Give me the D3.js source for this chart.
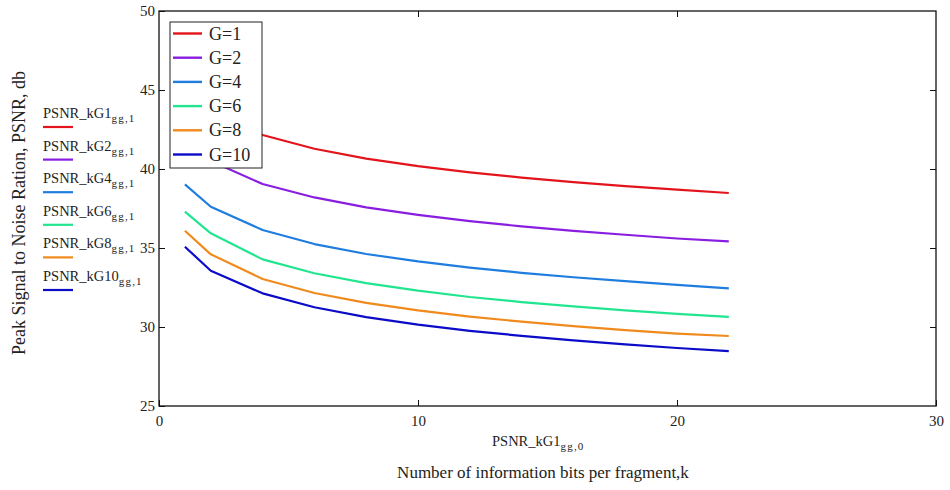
<!DOCTYPE html>
<html>
<head>
<meta charset="utf-8">
<script src="https://cdn.jsdelivr.net/npm/d3@7"></script>
<style>
  html, body { margin: 0; padding: 0; background: #fff; }
  svg { display: block; }
  text { font-family: "Liberation Serif", "Times New Roman", serif; fill: #222; }
</style>
</head>
<body>
<svg id="chart" width="950" height="490"></svg>
<script>
// Number of information bits per fragment
const bits = [1, 2, 4, 6, 8, 10, 12, 14, 16, 18, 20, 22];

// PSNR (dB) per group size G
const psnrG1  = [45.0, 43.6, 42.15, 41.28, 40.66, 40.18, 39.79, 39.46, 39.17, 38.92, 38.69, 38.48];
const psnrG2  = [41.9, 40.5, 39.05, 38.2, 37.57, 37.1, 36.7, 36.37, 36.08, 35.84, 35.6, 35.42];
const psnrG4  = [39.03, 37.61, 36.14, 35.25, 34.62, 34.15, 33.76, 33.43, 33.15, 32.9, 32.66, 32.44];
const psnrG6  = [37.3, 35.93, 34.28, 33.4, 32.78, 32.3, 31.9, 31.58, 31.3, 31.05, 30.83, 30.64];
const psnrG8  = [36.09, 34.6, 33.04, 32.15, 31.53, 31.05, 30.66, 30.34, 30.05, 29.8, 29.58, 29.43];
const psnrG10 = [35.08, 33.56, 32.13, 31.25, 30.63, 30.15, 29.76, 29.44, 29.15, 28.9, 28.67, 28.47];

const seriesNames = ["G=1", "G=2", "G=4", "G=6", "G=8", "G=10"];
const seriesIds = ["1", "2", "4", "6", "8", "10"];
const seriesColors = ["#e3141b", "#8a1ee0", "#1f7ddf", "#21e58f", "#f18a1c", "#0b0bc8"];
const seriesValues = [psnrG1, psnrG2, psnrG4, psnrG6, psnrG8, psnrG10];

const xTicks = [0, 10, 20, 30];
const yTicks = [25, 30, 35, 40, 45, 50];

const svg = d3.select("#chart");
const x = d3.scaleLinear().domain([0, 30]).range([159, 936]);
const y = d3.scaleLinear().domain([25, 50]).range([406, 11]);

const tick = 6;
const serif = "Liberation Serif";

// inner tick marks on all four sides
svg.append("g").attr("transform", `translate(${x(0)},0)`)
  .call(d3.axisLeft(y).tickValues(yTicks).tickSize(-tick).tickSizeOuter(0).tickPadding(4))
  .call(g => g.select(".domain").remove())
  .call(g => g.selectAll("line").attr("stroke", "#111"))
  .call(g => g.selectAll("text").attr("font-size", 15).attr("font-family", serif).attr("fill", "#333"));

svg.append("g").attr("transform", `translate(0,${y(25)})`)
  .call(d3.axisBottom(x).tickValues(xTicks).tickSize(-tick).tickSizeOuter(0).tickPadding(9))
  .call(g => g.select(".domain").remove())
  .call(g => g.selectAll("line").attr("stroke", "#111"))
  .call(g => g.selectAll("text").attr("font-size", 15).attr("font-family", serif).attr("fill", "#333"));

svg.append("g").attr("transform", `translate(0,${y(50)})`)
  .call(d3.axisTop(x).tickValues([10, 20]).tickSize(-tick).tickSizeOuter(0).tickFormat(""))
  .call(g => g.select(".domain").remove())
  .call(g => g.selectAll("line").attr("stroke", "#111"));

svg.append("g").attr("transform", `translate(${x(30)},0)`)
  .call(d3.axisRight(y).tickValues([30, 35, 40, 45]).tickSize(-tick).tickSizeOuter(0).tickFormat(""))
  .call(g => g.select(".domain").remove())
  .call(g => g.selectAll("line").attr("stroke", "#111"));

// plot frame
svg.append("rect")
  .attr("x", x(0)).attr("y", y(50))
  .attr("width", x(30) - x(0)).attr("height", y(25) - y(50))
  .attr("fill", "none").attr("stroke", "#111").attr("stroke-width", 1.3);

// curves
const line = d3.line().x((d, i) => x(bits[i])).y(d => y(d));
seriesValues.forEach((vals, k) => {
  svg.append("path")
    .datum(vals)
    .attr("d", line)
    .attr("fill", "none")
    .attr("stroke", seriesColors[k])
    .attr("stroke-width", 2.2)
    .attr("stroke-linejoin", "round");
});

// inner legend box
const lg = svg.append("g").attr("transform", "translate(170,22)");
lg.append("rect").attr("width", 92).attr("height", 146)
  .attr("fill", "#fff").attr("stroke", "#222").attr("stroke-width", 1);
seriesNames.forEach((name, k) => {
  const cy = 11.5 + k * 24.2;
  lg.append("line").attr("x1", 3).attr("x2", 32).attr("y1", cy).attr("y2", cy)
    .attr("stroke", seriesColors[k]).attr("stroke-width", 2.4);
  lg.append("text").attr("x", 39).attr("y", cy + 6)
    .attr("font-family", serif).attr("font-size", 18).text(name);
});

// left-hand trace legend
seriesIds.forEach((id, k) => {
  const ly = 127 + k * 32.6;
  const t = svg.append("text").attr("x", 43).attr("y", ly - 9)
    .attr("font-family", serif).attr("font-size", 14.5);
  t.append("tspan").text("PSNR_kG" + id);
  t.append("tspan").attr("font-size", 11).attr("dy", 4).attr("letter-spacing", 1.2).text("gg,1");
  svg.append("line").attr("x1", 43).attr("x2", 73).attr("y1", ly).attr("y2", ly)
    .attr("stroke", seriesColors[k]).attr("stroke-width", 2.2);
});

// axis titles
const xt = svg.append("text").attr("x", 492).attr("y", 446)
  .attr("font-family", serif).attr("font-size", 14.5);
xt.append("tspan").text("PSNR_kG1");
xt.append("tspan").attr("font-size", 11).attr("dy", 4).attr("letter-spacing", 1.2).text("gg,0");

svg.append("text").attr("x", 543).attr("y", 478).attr("text-anchor", "middle")
  .attr("font-family", serif).attr("font-size", 17)
  .text("Number of information bits per fragment,k");

svg.append("text")
  .attr("transform", "translate(25,213) rotate(-90)")
  .attr("text-anchor", "middle").attr("font-family", serif).attr("font-size", 18)
  .text("Peak Signal to Noise Ration, PSNR, db");
</script>
</body>
</html>
